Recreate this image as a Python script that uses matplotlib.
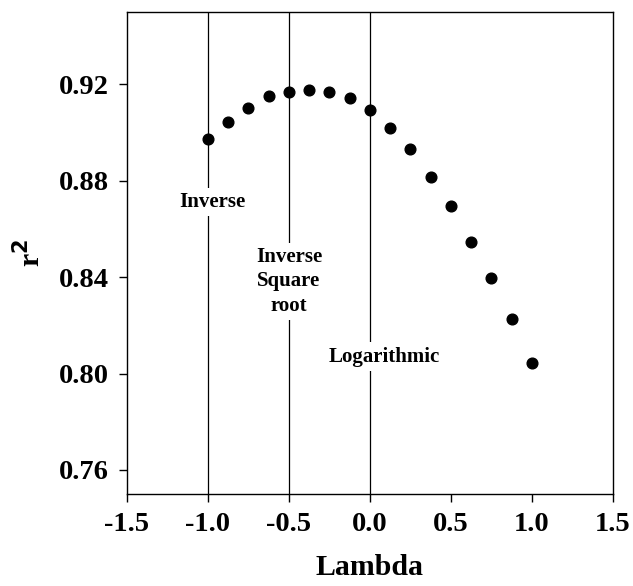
import matplotlib
matplotlib.use("Agg")
import matplotlib.pyplot as plt

# Box-Cox lambda vs r^2
lambdas = [-1.0, -0.875, -0.75, -0.625, -0.5, -0.375, -0.25, -0.125, 0.0,
           0.125, 0.25, 0.375, 0.5, 0.625, 0.75, 0.875, 1.0]
r2 = [0.8971, 0.9042, 0.9100, 0.9150, 0.9167, 0.9175, 0.9167, 0.9142, 0.9092,
      0.9020, 0.8930, 0.8817, 0.8696, 0.8546, 0.8396, 0.8225, 0.8042]

# reference transforms
ref_x = [-1.0, -0.5, 0.0]
ref_labels = ["Inverse", "Inverse\nSquare\nroot", "Logarithmic"]
label_pos = [(-0.97, 0.8713), (-0.5, 0.8383), (0.086, 0.8070)]

xticks = [-1.5, -1.0, -0.5, 0.0, 0.5, 1.0, 1.5]
yticks = [0.76, 0.80, 0.84, 0.88, 0.92]

plt.rcParams['font.family'] = ['Liberation Serif', 'DejaVu Serif']
plt.rcParams['font.weight'] = 'bold'

fig = plt.figure(figsize=(6.33, 5.86), dpi=100)
ax = fig.add_axes([0.2006, 0.157, 0.7678, 0.8225])

for x in ref_x:
    ax.axvline(x, color='black', linewidth=0.9, zorder=1)

for (tx, ty), lab in zip(label_pos, ref_labels):
    ax.text(tx, ty, lab, ha='center', va='center', fontsize=15,
            fontweight='bold', linespacing=1.3, zorder=2,
            bbox=dict(facecolor='white', edgecolor='none', pad=3))

ax.plot(lambdas, r2, 'o', color='black', markersize=7.7, zorder=3)

ax.set_xlim(-1.5, 1.5)
ax.set_ylim(0.75, 0.95)
ax.set_xticks(xticks)
ax.set_xticklabels([f"{v:.1f}" for v in xticks])
ax.set_yticks(yticks)
ax.set_yticklabels([f"{v:.2f}" for v in yticks])
ax.tick_params(direction='out', length=6, width=1, labelsize=20.5, pad=7)
for lab in ax.get_xticklabels() + ax.get_yticklabels():
    lab.set_fontweight('bold')

ax.set_xlabel('Lambda', fontsize=21.5, fontweight='bold', labelpad=12)
ax.set_ylabel('r$^{\\mathbf{2}}$', fontsize=21.5, fontweight='bold', labelpad=9)

for s in ax.spines.values():
    s.set_linewidth(1)

fig.savefig('out.png', dpi=100)
